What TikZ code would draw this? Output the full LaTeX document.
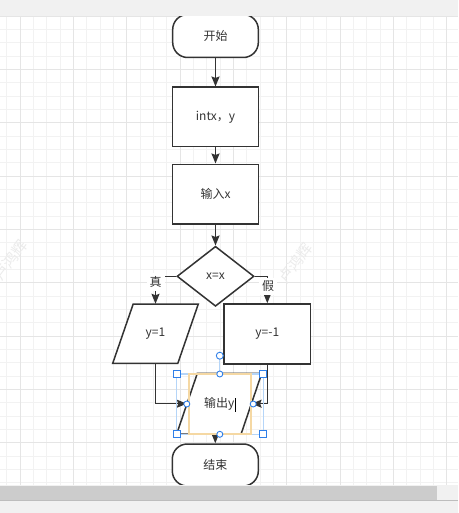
\documentclass[tikz,border=0pt]{standalone}
\usepackage{fontspec}
\setmainfont{Noto Sans CJK SC}
\usetikzlibrary{shapes.geometric,arrows.meta,calc}
\definecolor{ink}{HTML}{333333}
\definecolor{gridminor}{HTML}{F2F2F2}
\definecolor{gridmajor}{HTML}{E5E5E5}
\definecolor{chrome}{HTML}{F1F1F1}
\definecolor{thumb}{HTML}{CCCCCC}
\definecolor{barline}{HTML}{BDBDBD}
\definecolor{selblue}{HTML}{B5D5F8}
\definecolor{handle}{HTML}{2F7FE8}
\definecolor{selorange}{HTML}{F5D8A3}
\definecolor{wm}{HTML}{EBEBEB}
\begin{document}
\begin{tikzpicture}[x=1pt,y=-1pt,
  txt/.style={text=ink, font=\fontsize{12}{14}\selectfont},
  shapeline/.style={draw=ink, line width=1.5pt},
  box/.style={shapeline, fill=white, rectangle, minimum width=85.6pt, minimum height=59.5pt, inner sep=0pt, txt},
  term/.style={box, rounded corners=15pt, minimum height=43pt},
  dia/.style={shapeline, fill=white, diamond, minimum width=77pt, minimum height=60pt, inner sep=0pt, txt},
  ptext/.style={rectangle, minimum width=85.4pt, minimum height=60pt, inner sep=0pt, txt},
  edge/.style={draw=ink, line width=1.5pt, -{Stealth[length=10pt,width=8pt,inset=1.5pt]}},
  lbl/.style={fill=white, inner sep=3pt, txt},
  wmark/.style={text=wm, font=\fontsize{15}{15}\selectfont, rotate=53},
  hdl/.style={draw=handle, fill=white, line width=0.9pt}
]
\useasboundingbox (0,0) rectangle (458,513);
% canvas and grid
\fill[white] (0,0) rectangle (458,513);
\foreach \k in {0,...,34}
  \draw[gridminor, line width=0.8pt] ({6.667+13.333*\k},16) -- ({6.667+13.333*\k},485);
\foreach \k in {0,...,35}
  \draw[gridminor, line width=0.8pt] (0,{16+13.333*\k}) -- (458,{16+13.333*\k});
\foreach \k in {0,...,8}
  \draw[gridmajor, line width=0.8pt] ({20+53.333*\k},16) -- ({20+53.333*\k},485);
\foreach \k in {0,...,8}
  \draw[gridmajor, line width=0.8pt] (0,{16+53.333*\k}) -- (458,{16+53.333*\k});
% watermarks
\node[wmark] (wm1) at (295,263) {卢鸿辉};
\node[wmark] (wm2) at (10,260) {卢鸿辉};

% shapes
\node[term] (start) at (215.5,36) {开始};
\node[box] (n1) at (215.5,117) {intx，y};
\node[box] (n2) at (215.5,194) {输入x};
\node[dia] (dec) at (215.5,276.3) {x=x};

\coordinate (p1c) at (155.5,333.7);
\filldraw[shapeline, fill=white] ($(p1c)+(-22.3,-29.7)$) -- ($(p1c)+(42.8,-29.7)$) -- ($(p1c)+(22.3,29.7)$) -- ($(p1c)+(-42.8,29.7)$) -- cycle;
\node[ptext, minimum width=85.6pt, minimum height=59.4pt] (p1) at (p1c) {y=1};

\node[box, minimum width=86.7pt, minimum height=60pt] (r2) at (267.3,334) {y=-1};

\coordinate (outc) at (219.2,403.7);
\filldraw[shapeline, fill=white] ($(outc)+(-21.9,-30.3)$) -- ($(outc)+(42.5,-30.3)$) -- ($(outc)+(21.9,30.3)$) -- ($(outc)+(-42.5,30.3)$) -- cycle;
\node[ptext, minimum width=85pt, minimum height=60.6pt] (out) at (outc) {输出y};

\node[term, minimum width=86pt, minimum height=42pt] (end) at (215.3,465) {结束};

% connectors
\draw[edge] (start) -- (n1);
\draw[edge] (n1) -- (n2);
\draw[edge] (n2) -- (dec);
\draw[edge] (dec.west) -| (p1.north);
\draw[edge] (dec.east) -| (r2.north);
\node[lbl] (lt) at (155.5,282) {真};
\node[lbl] (lf) at (268,286) {假};
\draw[edge] (p1.south) |- ($(out.west)+(10.3,0)$);
\draw[edge] (r2.south) |- ($(out.east)+(-10.3,0)$);
\draw[edge] (out.south -| end.north) -- (end.north);

% selection overlay
\draw[selblue, line width=1.2pt] (176.7,374) rectangle (263.3,434.3);
\draw[selorange, line width=1.8pt] (189,374) rectangle (251,434.3);
\draw[selblue, line width=1.2pt] (219.8,359.2) -- (219.8,371);
\filldraw[hdl] (219.8,355.7) circle[radius=3.5pt];
\foreach \a/\b in {219.8/374,219.8/434.3,186.8/404,253.2/404}
  \filldraw[hdl] (\a,\b) circle[radius=3pt];
\foreach \a/\b in {176.7/374,263.3/374,176.7/434.3,263.3/434.3}
  \filldraw[hdl] ({\a-3.5},{\b-3.5}) rectangle ({\a+3.5},{\b+3.5});
\draw[black, line width=0.8pt] (235.5,398) -- (235.5,412);

% editor chrome
\fill[chrome] (0,0) rectangle (458,16);
\fill[chrome] (0,485) rectangle (458,513);
\fill[thumb] (0,486) rectangle (436.7,500);
\draw[barline, line width=1pt] (0,500.7) -- (458,500.7);
\end{tikzpicture}
\end{document}
